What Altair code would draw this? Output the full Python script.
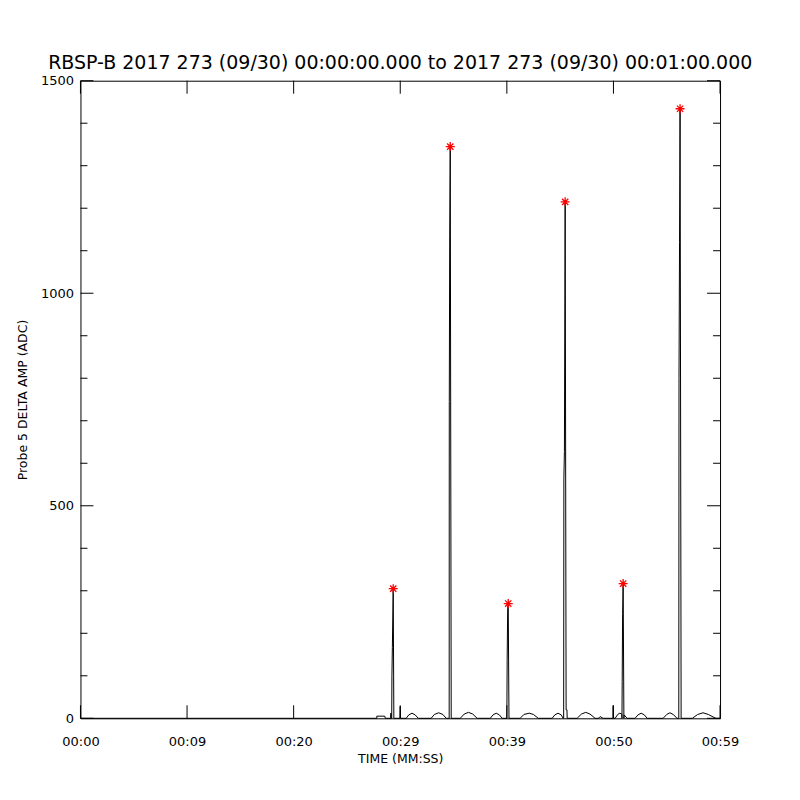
import altair as alt
import pandas as pd

# ---- data ----
t = [0, 27.8, 27.8, 28.55, 28.6,
     29.1, 29.12, 29.14, 29.2, 29.22, 29.26, 29.34, 29.4,
     29.97, 30.0, 30.03,
     30.56, 30.8, 31.1, 31.4, 31.69,
     32.9, 33.2, 33.6, 34.0, 34.31,
     34.59, 34.6, 34.64, 34.69, 34.78,
     35.63, 36.0, 36.4, 36.8, 37.22,
     38.44, 38.7, 39.0, 39.3, 39.56,
     40.0, 40.03, 40.08, 40.13, 40.2,
     41.25, 41.6, 42.1, 42.5, 42.94,
     44.25, 44.5, 44.8, 45.1, 45.28,
     45.33, 45.35, 45.4, 45.47, 45.56, 45.64, 45.66,
     46.59, 47.0, 47.4, 47.8, 48.28,
     48.6, 48.75, 49.03,
     49.95, 49.97, 50.0,
     50.16, 50.4, 50.6, 50.78,
     50.8, 50.82, 50.86, 50.91, 50.98,
     51.0, 51.28,
     52.03, 52.3, 52.6, 52.9, 53.16,
     54.66, 55.0, 55.3, 55.6, 55.97,
     56.13, 56.15, 56.2, 56.25, 56.35,
     57.4, 57.9, 58.4, 58.9, 59.6, 60]
amp = [0, 0, 5, 5, 0,
       0, 12, 0, 0, 100, 167, 305, 0,
       0, 28, 0,
       0, 8, 12, 8, 0,
       0, 9, 13, 9, 0,
       0, 745, 1135, 1345, 0,
       0, 10, 14, 10, 0,
       0, 8, 12, 8, 0,
       0, 139, 258, 270, 0,
       0, 9, 12, 9, 0,
       0, 8, 12, 8, 0,
       0, 565, 628, 1215, 20, 20, 0,
       0, 10, 14, 10, 0,
       0, 4, 0,
       0, 30, 0,
       0, 9, 12, 10,
       0, 87, 247, 317, 0,
       8, 0,
       0, 8, 12, 8, 0,
       0, 9, 13, 9, 0,
       0, 800, 1120, 1434, 0,
       0, 9, 13, 9, 0, 0]

peak_t = [29.34, 34.69, 40.13, 45.47, 50.91, 56.25]
peak_v = [305, 1345, 270, 1215, 317, 1434]

x_tick_vals = [0, 10, 20, 30, 40, 50, 60]
x_tick_labels = ['00:00', '00:09', '00:20', '00:29', '00:39', '00:50', '00:59']
y_major = [0, 500, 1000, 1500]
y_minor = [100, 200, 300, 400, 600, 700, 800, 900, 1100, 1200, 1300, 1400]

TITLE = "RBSP-B 2017 273 (09/30) 00:00:00.000 to 2017 273 (09/30) 00:01:00.000"

# ---- layout / style ----
W, H = 640, 638
FONT = "DejaVu Sans"
MAJ, MIN = 13, 7

xs = alt.Scale(domain=[0, 60], nice=False, zero=False)
ys = alt.Scale(domain=[0, 1500], nice=False, zero=False)

label_expr = f"{x_tick_labels}[indexof({x_tick_vals}, datum.value)]"

common = dict(ticks=False, domain=False, grid=False, labelFlush=False,
              labelFont=FONT, labelFontSize=13, labelColor="black",
              titleFont=FONT, titleFontSize=12.5, titleColor="black",
              titleFontWeight="normal")
x_axis = alt.Axis(values=x_tick_vals, labelExpr=label_expr, title="TIME (MM:SS)",
                  labelPadding=17, titlePadding=4, **common)
y_axis = alt.Axis(values=y_major, format="d", title="Probe 5 DELTA AMP (ADC)",
                  labelPadding=7, titlePadding=11, **common)

df = pd.DataFrame({"t": t, "amp": amp, "i": list(range(len(t)))})
peaks = pd.DataFrame({"t": peak_t, "v": peak_v})

line = alt.Chart(df).mark_line(color="black", strokeWidth=1).encode(
    x=alt.X("t:Q", scale=xs, axis=x_axis),
    y=alt.Y("amp:Q", scale=ys, axis=y_axis),
    order=alt.Order("i:Q"),
)

ASTER = "M-1,0L1,0M0,-1L0,1M-0.7,-0.7L0.7,0.7M-0.7,0.7L0.7,-0.7"
stars = alt.Chart(peaks).mark_point(
    shape=ASTER, filled=False, color="red", strokeWidth=1.3, size=81, opacity=1
).encode(
    x=alt.X("t:Q", scale=xs, axis=x_axis),
    y=alt.Y("v:Q", scale=ys, axis=y_axis),
)

ymaj = pd.DataFrame({"v": y_major})
ymin = pd.DataFrame({"v": y_minor})
xmaj = pd.DataFrame({"v": x_tick_vals})


def ytick(data, x0, x1):
    return alt.Chart(data).mark_rule(color="black", strokeWidth=1).encode(
        y=alt.Y("v:Q", scale=ys, axis=y_axis), x=alt.value(x0), x2=alt.value(x1))


def xtick(data, y0, y1):
    return alt.Chart(data).mark_rule(color="black", strokeWidth=1).encode(
        x=alt.X("v:Q", scale=xs, axis=x_axis), y=alt.value(y0), y2=alt.value(y1))


ticks = [
    ytick(ymaj, 0, MAJ), ytick(ymin, 0, MIN),
    ytick(ymaj, W, W - MAJ), ytick(ymin, W, W - MIN),
    xtick(xmaj, H, H - MAJ), xtick(xmaj, 0, MAJ),
]

chart = alt.layer(line, *ticks, stars).properties(
    width=W, height=H,
    background="white",
    title=alt.TitleParams(TITLE, font=FONT, fontSize=19, fontWeight="normal",
                          anchor="middle", color="black", offset=2),
    padding={"left": 72.5, "top": 72.5, "right": 72, "bottom": 74},
    autosize=alt.AutoSizeParams(type="none"),
).configure_view(stroke="black", strokeWidth=1)

chart.save("out.html", embed_options={"renderer": "svg", "actions": False})
